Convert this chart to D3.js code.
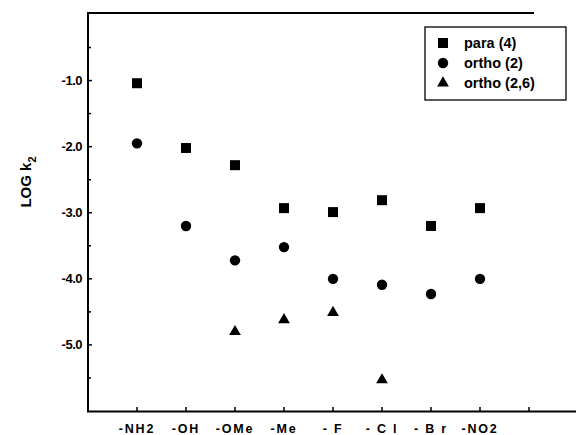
<!DOCTYPE html>
<html><head><meta charset="utf-8">
<script src="https://cdn.jsdelivr.net/npm/d3@7"></script>
<style>body{margin:0;background:#fff}svg{display:block}</style>
</head><body>
<svg id="c" width="576" height="435"></svg>
<script>
const categories = ["-NH2","-OH","-OMe","-Me","- F","- C l","- B r","-NO2"];
const para4   = [-1.04,-2.02,-2.28,-2.93,-2.99,-2.81,-3.20,-2.93];
const ortho2  = [-1.95,-3.20,-3.72,-3.52,-4.00,-4.09,-4.23,-4.00];
const ortho26 = [null,null,-4.80,-4.62,-4.51,-5.53,null,null];
const yTicks = [-1,-2,-3,-4,-5];
const seriesNames = ["para (4)","ortho (2)","ortho (2,6)"];

const svg = d3.select("#c");
const x = d3.scaleLinear().domain([0,10]).range([88,578]);
const y = d3.scaleLinear().domain([-6,0]).range([411,14.5]);
const font = "Liberation Sans, Arial, Helvetica, sans-serif";

// axes lines
svg.append("line").attr("x1",88).attr("x2",88).attr("y1",13).attr("y2",412).attr("stroke","#000").attr("stroke-width",2);
svg.append("line").attr("x1",87).attr("x2",576).attr("y1",411.5).attr("y2",411.5).attr("stroke","#000").attr("stroke-width",2);
svg.append("line").attr("x1",87).attr("x2",534).attr("y1",13).attr("y2",13).attr("stroke","#000").attr("stroke-width",2);

// y ticks
const yMinor = d3.range(-5.5,0,1);
svg.selectAll(".ymaj").data(yTicks).join("line").attr("x1",88).attr("x2",92)
  .attr("y1",d=>y(d)).attr("y2",d=>y(d)).attr("stroke","#000").attr("stroke-width",1.5);
svg.selectAll(".ymin").data(yMinor).join("line").attr("x1",88).attr("x2",91)
  .attr("y1",d=>y(d)).attr("y2",d=>y(d)).attr("stroke","#000").attr("stroke-width",1.5);
svg.selectAll(".ylab").data(yTicks).join("text").attr("x",82).attr("y",d=>y(d)+4.5)
  .attr("text-anchor","end").attr("font-family",font).attr("font-weight","bold").attr("font-size",13)
  .attr("letter-spacing",-0.5).text(d=>d.toFixed(1));

// x ticks
svg.selectAll(".xt").data(d3.range(1,10)).join("line").attr("x1",d=>x(d)).attr("x2",d=>x(d))
  .attr("y1",411).attr("y2",407).attr("stroke","#000").attr("stroke-width",1.5);
svg.selectAll(".xl").data(categories).join("text").attr("x",(d,i)=>x(i+1)).attr("y",433)
  .attr("text-anchor","middle").attr("font-family",font).attr("font-weight","bold").attr("font-size",12.5)
  .attr("letter-spacing",1.8).text(d=>d);

// y label
svg.append("text").attr("transform","translate(31,182) rotate(-90)").attr("text-anchor","middle")
  .attr("font-family",font).attr("font-weight","bold").attr("font-size",15)
  .html('LOG k<tspan dy="5" font-size="11">2</tspan>');

// markers
const sq = d3.symbol().type(d3.symbolSquare).size(100);
const ci = d3.symbol().type(d3.symbolCircle).size(85);
const tr = d3.symbol().type(d3.symbolTriangle).size(60);
function plot(vals, sym){
  svg.append("g").selectAll("path").data(vals.map((v,i)=>({v,i})).filter(d=>d.v!==null)).join("path")
    .attr("d",sym).attr("transform",d=>`translate(${x(d.i+1)},${y(d.v)})`).attr("fill","#000");
}
plot(para4, sq); plot(ortho2, ci); plot(ortho26, tr);

// legend
svg.append("rect").attr("x",425).attr("y",27).attr("width",141).attr("height",73)
  .attr("fill","#fff").attr("stroke","#000").attr("stroke-width",1.3);
const syms=[sq,ci,tr];
seriesNames.forEach((n,i)=>{
  const yy = 43 + i*20;
  svg.append("path").attr("d",syms[i]).attr("transform",`translate(443,${yy})`).attr("fill","#000");
  svg.append("text").attr("x",464).attr("y",yy+5).attr("font-family",font).attr("font-weight","bold")
    .attr("font-size",14.5).text(n);
});
</script>
</body></html>
